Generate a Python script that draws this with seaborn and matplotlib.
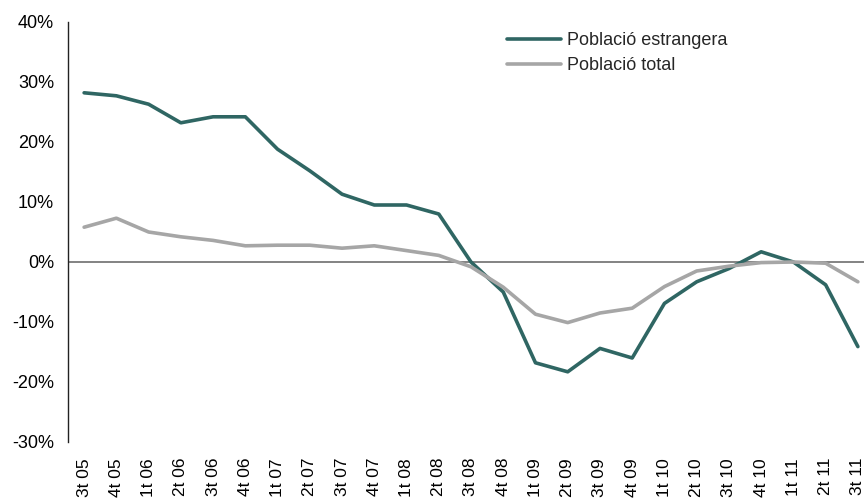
import pandas as pd
import matplotlib
matplotlib.use("Agg")
import matplotlib.pyplot as plt
import seaborn as sns
from matplotlib.ticker import PercentFormatter

# quarters shown on the x axis
quarters = ["3t 05", "4t 05", "1t 06", "2t 06", "3t 06", "4t 06", "1t 07", "2t 07",
            "3t 07", "4t 07", "1t 08", "2t 08", "3t 08", "4t 08", "1t 09", "2t 09",
            "3t 09", "4t 09", "1t 10", "2t 10", "3t 10", "4t 10", "1t 11", "2t 11",
            "3t 11"]

# year-on-year change, %
foreign_pop = [28.2, 27.7, 26.3, 23.2, 24.2, 24.2, 18.8, 15.2, 11.3, 9.5, 9.5, 8.0,
               0.0, -5.0, -16.8, -18.3, -14.4, -16.0, -6.9, -3.3, -1.1, 1.7, 0.0,
               -3.8, -14.1]
total_pop = [5.8, 7.3, 5.0, 4.2, 3.6, 2.7, 2.8, 2.8, 2.3, 2.7, 1.9, 1.1, -0.8, -4.2,
             -8.7, -10.1, -8.5, -7.7, -4.1, -1.5, -0.7, -0.1, 0.0, -0.2, -3.3]

series_names = ["Població estrangera", "Població total"]
colors = ["#2f6663", "#a6a6a6"]

df = pd.DataFrame({
    "pos": list(range(len(quarters))) * 2,
    "value": foreign_pop + total_pop,
    "serie": [series_names[0]] * len(quarters) + [series_names[1]] * len(quarters),
})

sns.set_style("white")
plt.rcParams["font.family"] = ["Liberation Sans", "DejaVu Sans"]
plt.rcParams["axes.unicode_minus"] = False

fig = plt.figure(figsize=(8.64, 4.99), dpi=100)
ax = fig.add_axes([68 / 864, 1 - 442 / 499, 806 / 864, 420 / 499])

sns.lineplot(data=df, x="pos", y="value", hue="serie", palette=colors,
             hue_order=series_names, linewidth=2.6, ax=ax)

ax.axhline(0, color="#7a7a7a", linewidth=1.3, zorder=0)

ax.set_xlim(-0.5, len(quarters) - 0.5)
ax.set_ylim(-30, 40)
ax.set_yticks(range(-30, 41, 10))
ax.yaxis.set_major_formatter(PercentFormatter(decimals=0))
ax.set_xticks(range(len(quarters)))
ax.set_xticklabels(quarters, rotation=90)
ax.tick_params(axis="y", length=0, labelsize=13, colors="black", pad=10)
ax.tick_params(axis="x", length=0, labelsize=12.5, colors="black", pad=11.5)
ax.set_xlabel("")
ax.set_ylabel("")

for side in ["top", "right", "bottom"]:
    ax.spines[side].set_visible(False)
ax.spines["left"].set_color("#222222")
ax.spines["left"].set_linewidth(1.0)

leg = ax.legend(title=None, loc="upper left", bbox_to_anchor=(0.525, 1.015),
                frameon=False, fontsize=13, handlelength=2.95,
                handletextpad=0.33, labelspacing=0.45)
for line in leg.get_lines():
    line.set_linewidth(2.6)

fig.savefig("out.png", dpi=100)
